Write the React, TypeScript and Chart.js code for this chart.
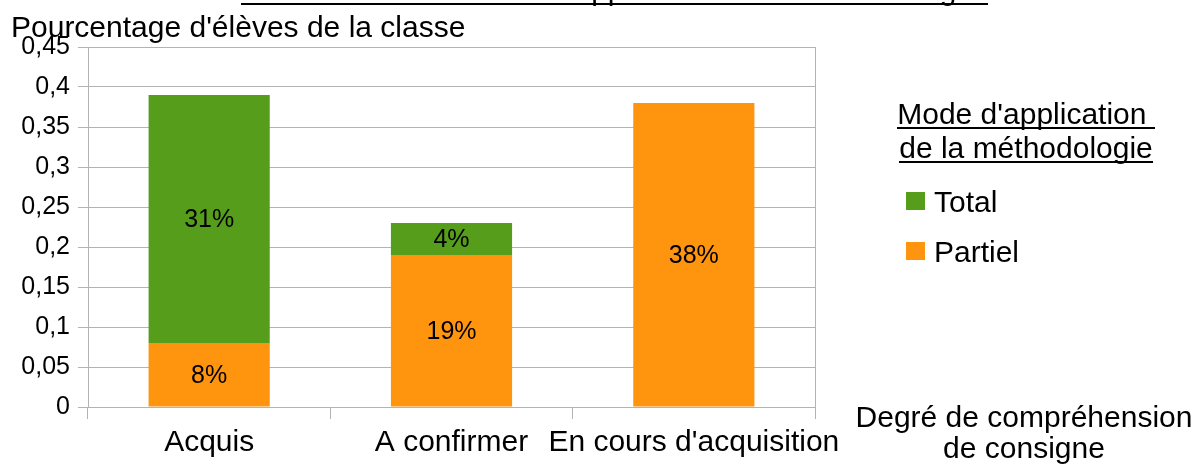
import React, { useEffect, useRef } from "react";
import { Chart, registerables } from "chart.js";

Chart.register(...registerables);

// ---- data ----
const categories = ["Acquis", "A confirmer", "En cours d'acquisition"];
const partielValues = [0.08, 0.19, 0.38];
const totalValues = [0.31, 0.04, 0];
const seriesPartiel = "Partiel";
const seriesTotal = "Total";
const yMin = 0;
const yMax = 0.45;
const yStep = 0.05;
const chartTitle = "Résultats de la classe et application de la méthodologie ";
const yAxisTitle = "Pourcentage d'élèves de la classe";
const xAxisTitleLines = ["Degré de compréhension", "de consigne"];
const legendTitleLines = ["Mode d'application ", "de la méthodologie"];

// ---- style ----
const FONT = '"Liberation Sans", Arial, Helvetica, sans-serif';
const GREEN = "#579d1c";
const ORANGE = "#ff950e";
const GRID = "#b3b3b3";
const W = 1204;
const H = 466;

function fmtComma(v: number): string {
  return String(Number(v.toFixed(2))).replace(".", ",");
}

function underlined(ctx: CanvasRenderingContext2D, text: string, x: number, y: number, align: CanvasTextAlign) {
  ctx.textAlign = align;
  ctx.textBaseline = "alphabetic";
  ctx.fillText(text, x, y);
  const w = ctx.measureText(text).width;
  let x0 = x;
  if (align === "center") x0 = x - w / 2;
  else if (align === "right") x0 = x - w;
  ctx.fillRect(Math.round(x0), Math.round(y + 3), Math.round(w), 2);
}

const decorations = {
  id: "decorations",
  afterDatasetsDraw(chart: any) {
    const ctx: CanvasRenderingContext2D = chart.ctx;
    ctx.save();
    ctx.fillStyle = "#000";
    ctx.font = `25px ${FONT}`;
    ctx.textAlign = "center";
    ctx.textBaseline = "middle";
    chart.data.datasets.forEach((ds: any, di: number) => {
      const meta = chart.getDatasetMeta(di);
      meta.data.forEach((el: any, i: number) => {
        const v = ds.data[i];
        if (!v) return;
        const y = (el.y + el.base) / 2;
        ctx.fillText(Math.round(v * 100) + "%", el.x, y + 1);
      });
    });
    ctx.restore();
  },
  afterDraw(chart: any) {
    const ctx: CanvasRenderingContext2D = chart.ctx;
    const area = chart.chartArea;
    ctx.save();
    // right border of plot area
    ctx.strokeStyle = GRID;
    ctx.lineWidth = 1;
    const rx = Math.round(area.right) + 0.5;
    ctx.beginPath();
    ctx.moveTo(rx, area.top);
    ctx.lineTo(rx, area.bottom);
    ctx.stroke();

    ctx.fillStyle = "#000";
    ctx.font = `30px ${FONT}`;
    // main title (cut off at the top)
    underlined(ctx, chartTitle, 241, 0, "left");

    // y axis title
    ctx.textAlign = "left";
    ctx.textBaseline = "alphabetic";
    ctx.fillText(yAxisTitle, 11, 37);

    // x axis title
    ctx.textAlign = "center";
    ctx.fillText(xAxisTitleLines[0], 1024, 427);
    ctx.fillText(xAxisTitleLines[1], 1024, 458);

    // legend
    underlined(ctx, legendTitleLines[0], 1026, 124, "center");
    underlined(ctx, legendTitleLines[1], 1026, 158, "center");
    const items = [...chart.data.datasets].reverse();
    items.forEach((ds: any, i: number) => {
      const y = 201 + i * 50;
      ctx.fillStyle = ds.backgroundColor;
      ctx.fillRect(906, y - 9, 19, 18);
      ctx.fillStyle = "#000";
      ctx.textAlign = "left";
      ctx.textBaseline = "alphabetic";
      ctx.fillText(ds.label, 934, y + 11);
    });
    ctx.restore();
  },
};

export default function App() {
  const ref = useRef<HTMLCanvasElement | null>(null);

  useEffect(() => {
    if (!ref.current) return;
    Chart.defaults.font.family = FONT;
    const chart = new Chart(ref.current, {
      type: "bar",
      data: {
        labels: categories,
        datasets: [
          {
            label: seriesPartiel,
            data: partielValues,
            backgroundColor: ORANGE,
            borderWidth: 0,
            barPercentage: 0.5,
            categoryPercentage: 1,
          },
          {
            label: seriesTotal,
            data: totalValues,
            backgroundColor: GREEN,
            borderWidth: 0,
            barPercentage: 0.5,
            categoryPercentage: 1,
          },
        ],
      },
      options: {
        responsive: false,
        animation: false,
        devicePixelRatio: 1,
        layout: { padding: { top: 47, right: W - 815, bottom: 0, left: 0 } },
        plugins: {
          legend: { display: false },
          title: { display: false },
          tooltip: { enabled: false },
        },
        scales: {
          x: {
            stacked: true,
            afterFit: (scale: any) => {
              scale.height = H - 407;
            },
            grid: {
              display: true,
              offset: true,
              drawOnChartArea: false,
              drawTicks: true,
              tickLength: 12,
              color: GRID,
            },
            border: { display: true, color: GRID },
            ticks: {
              color: "#000",
              font: { size: 30, family: FONT },
              padding: 6,
              autoSkip: false,
              maxRotation: 0,
              minRotation: 0,
            },
          },
          y: {
            stacked: true,
            min: yMin,
            max: yMax,
            afterFit: (scale: any) => {
              scale.width = 88;
            },
            grid: { color: GRID, tickLength: 10, drawTicks: true },
            border: { display: true, color: GRID },
            ticks: {
              stepSize: yStep,
              color: "#000",
              font: { size: 25, family: FONT },
              padding: 8,
              callback: (v: any) => fmtComma(Number(v)),
            },
          },
        },
      },
      plugins: [decorations],
    });
    return () => chart.destroy();
  }, []);

  return (
    <div style={{ position: "absolute", left: 0, top: 0, width: W, height: H }}>
      <canvas ref={ref} width={W} height={H} style={{ width: W, height: H, display: "block" }} />
    </div>
  );
}
